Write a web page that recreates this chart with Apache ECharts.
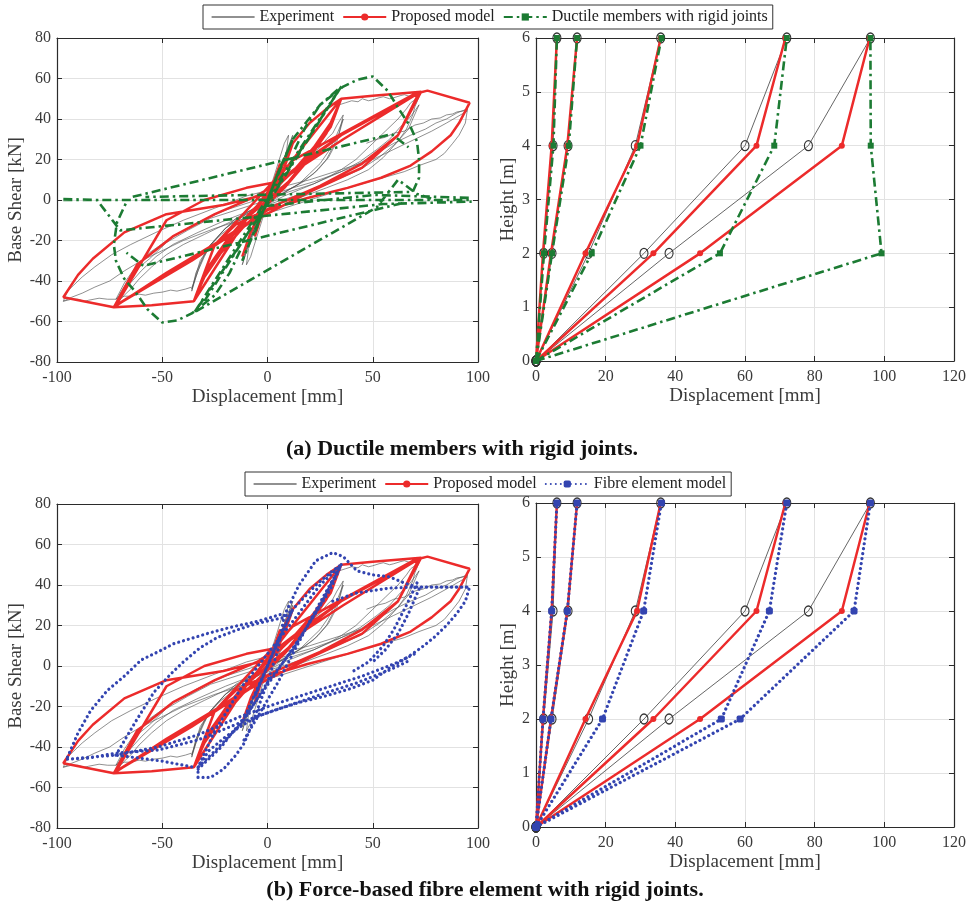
<!DOCTYPE html>
<html><head><meta charset="utf-8">
<script src="https://cdn.jsdelivr.net/npm/echarts@6/dist/echarts.min.js"></script>
<style>html,body{margin:0;padding:0;background:#fff}#c{width:970px;height:907px}</style>
</head><body><div id="c"></div>
<script>
// ---------------- DATA ----------------
const GAP = ['-', '-'];
const heights = [0, 2, 4, 6];
const hystXTicks = [-100, -50, 0, 50, 100];
const profXTicks = [0, 20, 40, 60, 80, 100, 120];

// storey displacement profiles [mm] at heights 0,2,4,6 m
const profExp   = [[0,2.2,4.9,6.0],[0,4.6,9.2,11.8],[0,15.1,28.5,35.8],[0,31,60,72],[0,38.2,78.2,96]];
const profProp  = [[0,2.0,4.5,6.0],[0,4.3,9.0,11.8],[0,14.2,29,35.8],[0,33.7,63.3,71.6],[0,47.1,87.8,95.8]];
const profDuct  = [[0,2.3,5.0,6.0],[0,4.6,9.4,11.8],[0,16,30,36],[0,52.8,68.4,72],[0,99.2,96.1,96]];
const profFibre = [[0,2.0,4.5,6.0],[0,4.3,9.0,11.8],[0,19.1,30.9,36],[0,53.2,67,72],[0,58.6,91.3,96]];

// hysteresis: [displacement mm, base shear kN]
const expHyst = [
 [[0,0],[3,10],[6,18],[4,10],[0,2],[-3,-8],[-6,-18],[-4,-10],[0,-2],[3,8],[6,17],[3,7],[0,0],[-3,-7],[-6,-17],[-3,-6],[0,0],
  [5,12],[9,24],[12,32],[9,22],[4,8],[0,0],[-5,-10],[-9,-22],[-12,-32],[-9,-22],[-4,-8],[0,0],[5,11],[9,22],[12,30],[8,18],[0,2],[-6,-12],[-12,-30],[-8,-18],[0,-2],
  [8,10],[14,15],[20,22],[25,26],[28,30],[31,33],[33,37],[36,42],[34,33],[31,26],[28,20],[22,13],[15,8],[7,3],[0,0],[-8,-5],[-15,-10],[-20,-14],[-25,-20],[-29,-25],[-32,-32],[-34,-38],[-36,-45],[-34,-36],[-31,-29],[-27,-22],[-21,-15],[-15,-9],[0,-1],[8,4],[15,8],[20,13],[25,18],[29,24],[32,30],[34,35],[36,40],[33,29],[29,21],[24,15],[17,9],[10,5],[0,-2],[-10,-8],[-16,-12],[-22,-17],[-27,-22],[-30,-28],[-33,-35],[-36,-44],[-32,-30],[-27,-22],[-20,-14],[-10,-7],[0,-2],
  [8,2],[15,5],[22,8],[30,12],[35,15],[42,20],[50,28],[56,34],[62,40],[66,45],[68,48],[72,51],[70,46],[69,42],[66,35],[62,29],[55,21],[48,15],[38,10],[28,6],[15,1],[0,-3],[-10,-7],[-20,-12],[-30,-17],[-40,-22],[-48,-27],[-55,-33],[-61,-39],[-65,-44],[-69,-48],[-72,-52],[-70,-46],[-67,-41],[-62,-34],[-56,-29],[-48,-21],[-38,-15],[-27,-9],[-15,-5],[0,0],[10,4],[22,8],[35,14],[44,19],[52,25],[58,30],[63,36],[67,40],[70,44],[72,47],[69,40],[67,35],[61,28],[53,21],[44,15],[35,11],[22,5],[10,1],[-5,-4],[-20,-10],[-33,-16],[-45,-22],[-53,-28],[-60,-35],[-66,-42],[-72,-49],[-68,-41],[-64,-35],[-56,-26],[-45,-18],[-33,-11],[-20,-5],[-8,-1],[0,2],
  [12,6],[22,9],[30,12],[40,16],[47,20],[55,25],[60,28],[68,32],[75,35],[80,38],[85,40],[90,43],[95,45],[94,38],[91,32],[88,28],[84,23],[80,20],[72,17],[65,14],[55,11],[45,8],[32,4],[20,0],[5,-5],[-10,-9],[-25,-14],[-40,-20],[-50,-25],[-60,-30],[-68,-35],[-75,-40],[-82,-43],[-88,-46],[-93,-48],[-97,-50],[-95,-45],[-92,-42],[-88,-38],[-82,-33],[-74,-27],[-65,-22],[-53,-16],[-40,-10],[-25,-4],[-10,2],[5,6],[20,10],[35,15],[50,20],[60,25],[70,30],[78,34],[85,38],[90,41],[95,44]],
 [[34,47],[37,48],[40,49],[43,48.5],[45,50],[48,49],[50,49.5],[53,50.5],[55,51],[58,50],[60,50.5],[63,51.5],[65,52],[68,51],[70,52]],
 [[-97,-50],[-93,-49],[-90,-49],[-87,-50],[-85,-49.5],[-80,-48.5],[-76,-49],[-72,-49],[-68,-47.5],[-65,-47.5],[-61,-46.5],[-58,-47],[-54,-46],[-50,-45.5],[-46,-44.5],[-43,-45],[-39,-44],[-36,-43]],
 [[47,28],[52,30],[56,31],[60,33],[65,34],[70,37],[74,38],[78,40],[82,40.5],[85,42],[88,42.5],[90,43.5],[93,44],[95,45]],
 [[2,8],[5,18],[8,28],[10,32],[9,24],[6,14]],
 [[-2,-8],[-5,-18],[-8,-28],[-10,-32],[-9,-24],[-6,-14]]
];

const propHyst = [
 [[0,0],[3,9],[6,18],[3,8],[0,0],[-3,-8],[-6,-18],[-3,-8],[0,0],
  [5,12],[9,22],[12,28],[8,16],[3,5],[-3,-5],[-8,-16],[-12,-28],[-8,-16],[-3,-5],[3,5],[8,16],[12,28],
  [20,38],[28,45],[35,50],
  [28,33],[18,18],[8,6],[-2,-4],[-12,-14],[-22,-26],[-30,-38],[-35,-50],
  [-28,-33],[-18,-18],[-8,-6],[2,4],[12,14],[22,26],[30,38],[35,50],
  [30,36],[20,22],[10,9],[0,0],[-10,-9],[-20,-22],[-30,-36],[-35,-50],
  [-30,-36],[-20,-22],[-10,-9],[0,0],[10,9],[20,22],[30,36],[35,50],
  [50,51.5],[73,53.5],
  [62,32],[45,18],[25,7],[5,-2],[-15,-12],[-25,-22],[-35,-50],[-55,-52],[-73,-53],
  [-62,-32],[-45,-18],[-25,-7],[-5,2],[8,11],[36,30],[72,53],
  [62,32],[45,16],[20,4],[-8,-11],[-36,-30],[-72,-52],
  [-48,-10],[-30,0],[-10,6],[5,9],[20,20],[35,32],[72,53],
  [76,54],[96,48],
  [91,38],[87,32],[78,24],[68,17],[54,11],[38,6],[19,1],[0,-5],[-24,-21],[-48,-36],[-73,-53],[-97,-48],
  [-90,-37],[-83,-29],[-68,-16],[-48,-7],[-21,-2.5],[0,3],[5,9],[20,21],[35,32]],
 [[-35,-50],[-11,-11],[12,20],[35,50]],
 [[-72,-52],[-24,-21],[12,19.6],[71,53]]
];

const ductHyst = [
 [[0,0],[6,16],[-6,-16],[6,16],[12,30],[-12,-30],[12,30],[25,47],[35,56],[0,1],[-35,-56],[0,-2],[35,56],[-30,-50]],
 [[13,25],[18,36],[25,47],[36,56],[43,59.5],[50,61],[57,54],[63,44],[68,36],[71,29],[72,20],[72,11],[69,4],[-58,1.5]],
 [[-13,-25],[-18,-36],[-25,-47],[-36,-56],[-43,-59.5],[-50,-60.5],[-57,-54],[-63,-45],[-68,-39],[-72,-30],[-73,-22],[-71.5,-11],[-67,-1]],
 [[-97,0],[97,0]],
 [[-97,0.5],[-81,0],[-70,-15],[55,-2],[97,-0.8]],
 [[-64,1.6],[59,32.5],[67,26]],
 [[64,-1.6],[-59,-32.5],[-67,-26]],
 [[-34,-55],[52,-3.5],[62,10],[71,3],[80,0]],
 [[-1,-3],[51,2.5],[97,1]]
];

const fibreHyst = [
 [[0,0],[6,15],[-6,-15],[6,15],[12,28],[-12,-28],[12,28],
  [23,40],[31,47],[35,50],[25,30],[12,8],[0,-8],[-12,-28],[-25,-42],[-33,-50],[-25,-32],[-12,-10],[0,6],[12,22],[25,40],[35,50],
  [30,38],[18,18],[5,-2],[-10,-24],[-22,-40],[-34,-52]],
 [[-33,-55],[-27,-55],[-21,-51],[-15,-44],[-11,-38],[-6,-25],[0,-8],[5,8],[8,25],[15,40],[23,52],[31,56],[36,54],[42.5,47],[50,45],[58,44],[65,41],[71,39],[96,39],
  [94,32],[90,26],[85,20],[79,14],[73,9],[66,4],[58,-1],[50,-7],[40,-11],[27,-15],[15,-18],[3,-22],[-5,-25],[-13,-30],[-20,-35],[-28,-42],[-33,-50],[-33,-55]],
 [[-95,-45],[-90,-33],[-84,-22],[-76,-12],[-68,-5],[-60,3],[-52,7],[-44.6,11],[-35,14],[-28.7,16],[-18,19],[-5,22],[8,26]],
 [[-72,-44],[-63,-28],[-54,-13],[-46,-4],[-40,2],[-32,9],[-24,14],[-14,18],[-5,21],[8,24],[12,28]],
 [[-95,-46],[-85,-45.5],[-72,-43],[-52,-41.5],[-33,-36.5],[-13,-28],[3,-22],[27,-13.5],[42,-8.5],[58,-2],[68,3]],
 [[-72,-44],[-52,-40],[-33,-34],[-13,-25],[3,-19],[27,-11],[45,-5],[60,1],[70,6]],
 [[-95,-46],[-72,-44],[-50,-47],[-35,-50]],
 [[71,41],[66,30],[60,18],[55,10],[48,2],[40,-3]],
 [[72,38],[67,26],[62,16],[56,8],[50,2]],
 [[31,32],[42,36],[58,38.5],[70,39],[96,39]],
 [[35,50],[20,22],[5,-8],[-12,-38]]
];

// ---------------- BUILD ----------------
function joinSegs(segs){ const out=[]; segs.forEach((s,i)=>{ if(i) out.push(GAP); s.forEach(p=>out.push(p)); }); return out; }
function profileData(rows){ const out=[]; rows.forEach((r,i)=>{ if(i) out.push(GAP); r.forEach((x,j)=>out.push([x, heights[j]])); }); return out; }

const FONT = 'Liberation Serif';
const C_RED = '#ec2b2b', C_GREEN = '#1c7b33', C_BLUE = '#3344b0', C_EXP = '#505050';

const grids = [
 {left:57, top:38, width:421, height:324},
 {left:536, top:38, width:418, height:323},
 {left:57, top:504, width:421, height:324},
 {left:536, top:503, width:418, height:324}
];
const axisSpec = [
 {xmin:-100,xmax:100,xint:50,ymin:-80,ymax:80,yint:20,yname:'Base Shear [kN]',ygap:31},
 {xmin:0,xmax:120,xint:20,ymin:0,ymax:6,yint:1,yname:'Height [m]',ygap:18},
 {xmin:-100,xmax:100,xint:50,ymin:-80,ymax:80,yint:20,yname:'Base Shear [kN]',ygap:31},
 {xmin:0,xmax:120,xint:20,ymin:0,ymax:6,yint:1,yname:'Height [m]',ygap:18}
];
const xAxes=[], yAxes=[];
const axLine = {show:true, onZero:false, lineStyle:{color:'#2b2b2b', width:1.2}};
const tick = {show:true, inside:true, length:5, lineStyle:{color:'#2b2b2b', width:1}};
axisSpec.forEach((a,g)=>{
  xAxes.push({gridIndex:g, type:'value', min:a.xmin, max:a.xmax, interval:a.xint, position:'bottom',
    name:'Displacement [mm]', nameLocation:'middle', nameGap:26,
    nameTextStyle:{fontFamily:FONT, fontSize:19, color:'#3a3a3a'},
    axisLine:axLine, axisTick:tick,
    axisLabel:{fontFamily:FONT, fontSize:16, color:'#3a3a3a', margin:8},
    splitLine:{show:true, lineStyle:{color:'#e2e2e2', width:1}}});
  yAxes.push({gridIndex:g, type:'value', min:a.ymin, max:a.ymax, interval:a.yint, position:'left',
    name:a.yname, nameLocation:'middle', nameGap:a.ygap, nameRotate:90,
    nameTextStyle:{fontFamily:FONT, fontSize:19, color:'#3a3a3a'},
    axisLine:axLine, axisTick:tick,
    axisLabel:{fontFamily:FONT, fontSize:16, color:'#3a3a3a', margin:6},
    splitLine:{show:true, lineStyle:{color:'#e2e2e2', width:1}}});
});
axisSpec.forEach((a,g)=>{
  xAxes.push({gridIndex:g, type:'value', min:a.xmin, max:a.xmax, interval:a.xint, position:'top',
    axisLine:axLine, axisTick:tick, axisLabel:{show:false}, splitLine:{show:false}});
  yAxes.push({gridIndex:g, type:'value', min:a.ymin, max:a.ymax, interval:a.yint, position:'right',
    axisLine:axLine, axisTick:tick, axisLabel:{show:false}, splitLine:{show:false}});
});

const DASHDOT = [9,4,2.5,4];
const DOT = [0.01,5];
function hyst(name, g, segs, ls, z){
  return {name, type:'line', xAxisIndex:g, yAxisIndex:g, data:joinSegs(segs), symbol:'none', showSymbol:false,
    connectNulls:false, lineStyle:ls, itemStyle:{color:ls.color}, z, animation:false, silent:true};
}
function prof(name, g, rows, ls, sym, z){
  return Object.assign({name, type:'line', xAxisIndex:g, yAxisIndex:g, data:profileData(rows), connectNulls:false,
    lineStyle:ls, z, animation:false, silent:true}, sym);
}
const lsExp = {color:C_EXP, width:0.8, opacity:0.8};
const lsExpP = {color:'#666', width:1};
const lsRed = {color:C_RED, width:2.5};
const lsGreen = {color:C_GREEN, width:2.6, type:DASHDOT};
const lsBlue = {color:C_BLUE, width:3.2, type:DOT, cap:'round'};

const symExp = {symbol:'circle', symbolSize:[8,10], showSymbol:true, itemStyle:{color:'rgba(255,255,255,0)', borderColor:'#333', borderWidth:1.2}};
const symRed = {symbol:'circle', symbolSize:6, showSymbol:true, itemStyle:{color:C_RED}};
const symGreen = {symbol:'rect', symbolSize:6, showSymbol:true, itemStyle:{color:C_GREEN}};
const symBlue = {symbol:'roundRect', symbolSize:7, showSymbol:true, itemStyle:{color:C_BLUE}};

const series = [
  hyst('Experiment', 0, expHyst, lsExp, 2),
  prof('Proposed model', 1, profProp, lsRed, symRed, 3),
  prof('Ductile members with rigid joints', 1, profDuct, lsGreen, symGreen, 4),
  prof('Fibre element model', 3, profFibre, lsBlue, symBlue, 4),
  prof('Experiment', 1, profExp, lsExpP, symExp, 2),
  hyst('Proposed model', 0, propHyst, lsRed, 3),
  hyst('Ductile members with rigid joints', 0, ductHyst, lsGreen, 4),
  hyst('Experiment', 2, expHyst, lsExp, 2),
  hyst('Proposed model', 2, propHyst, lsRed, 3),
  hyst('Fibre element model', 2, fibreHyst, lsBlue, 4),
  prof('Experiment', 3, profExp, lsExpP, symExp, 2),
  prof('Proposed model', 3, profProp, lsRed, symRed, 3)
];

const legendBase = {orient:'horizontal', selectedMode:false, backgroundColor:'#fff', borderColor:'#333', borderWidth:1,
  itemWidth:43, itemHeight:9, itemGap:8, padding:[4,5,4,8],
  textStyle:{fontFamily:FONT, fontSize:16, color:'#222'}};
const expLegendItem = {name:'Experiment', itemStyle:{color:'rgba(0,0,0,0)', borderWidth:0, opacity:0},
  lineStyle:{color:'#222', width:1.2, opacity:1}};

const option = {
  animation:false,
  textStyle:{fontFamily:FONT},
  grid: grids.map(g=>Object.assign({outerBoundsMode:'none', containLabel:false}, g)),
  xAxis: xAxes, yAxis: yAxes,
  legend: [
    Object.assign({}, legendBase, {left:203, top:5, data:[expLegendItem,'Proposed model','Ductile members with rigid joints']}),
    Object.assign({}, legendBase, {left:245, top:472, data:[expLegendItem,'Proposed model','Fibre element model']})
  ],
  graphic: [
    {type:'text', left:286, top:438, style:{text:'(a) Ductile members with rigid joints.', font:'bold 22px "Liberation Serif"', fill:'#111'}},
    {type:'text', left:'center', top:879, style:{text:'(b) Force-based fibre element with rigid joints.', font:'bold 22px "Liberation Serif"', fill:'#111'}}
  ],
  series
};
const chart = echarts.init(document.getElementById('c'), null, {renderer:'canvas'});
chart.setOption(option);
</script></body></html>
